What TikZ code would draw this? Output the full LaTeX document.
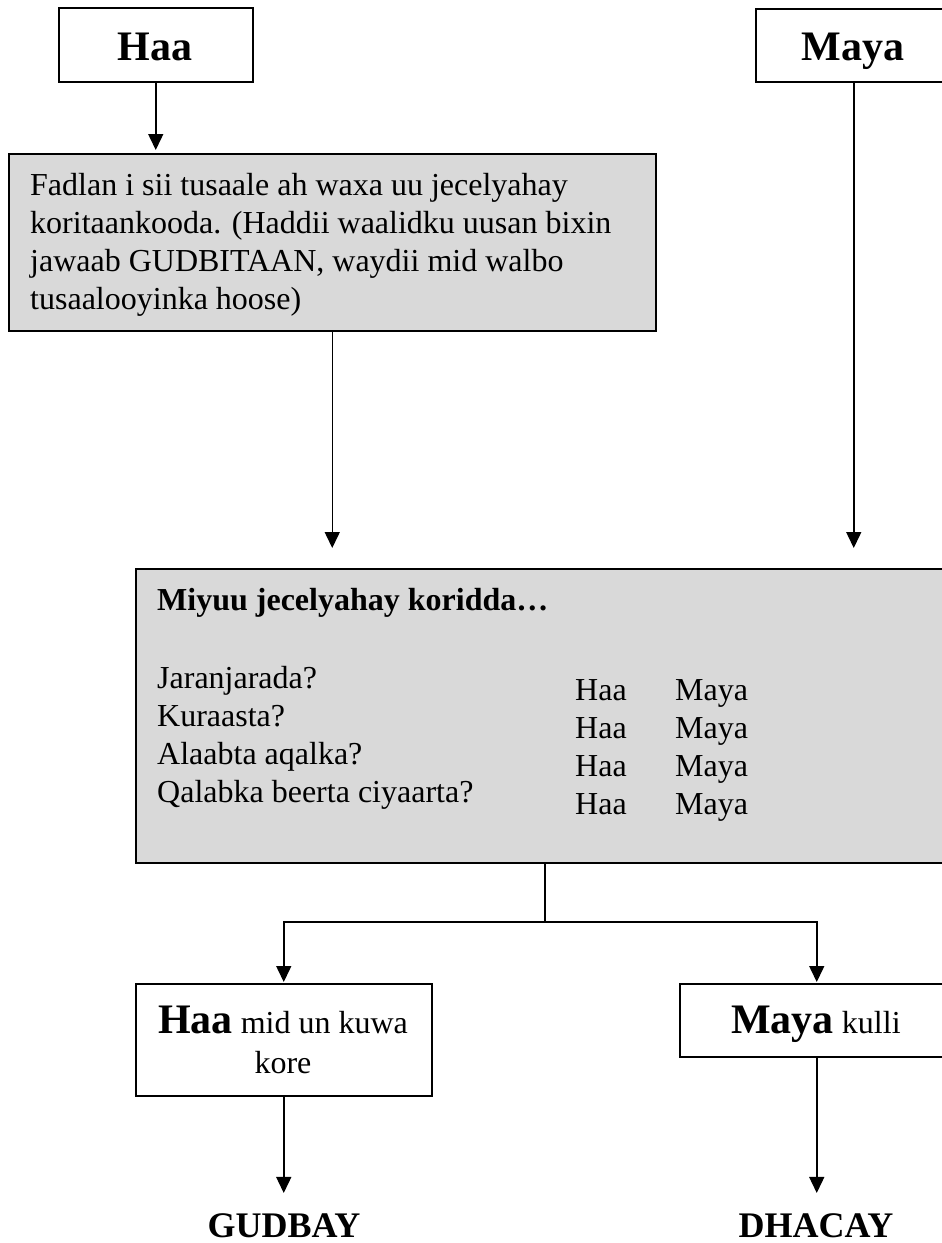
\documentclass[tikz,border=0pt]{standalone}
\usepackage{fontspec}
\setmainfont{Liberation Serif}
\usetikzlibrary{arrows.meta}
\definecolor{boxgray}{HTML}{D9D9D9}
\tikzset{
  box/.style={draw=black, line width=1.5pt, rectangle, inner sep=0pt, anchor=north west},
  graybox/.style={box, fill=boxgray},
  conn/.style={line width=1.5pt, -{Triangle[length=16pt,width=15pt]}},
  plain/.style={line width=1.5pt},
  txt/.style={inner sep=0pt, anchor=base west, font=\fontsize{32}{38}\selectfont},
  big/.style={font=\fontsize{42}{48}\selectfont\bfseries},
}
\begin{document}
\begin{tikzpicture}[x=1pt,y=-1pt]
\useasboundingbox (0,0) rectangle (942,1243);
\clip (0,0) rectangle (942,1243);
% top boxes
\node[box, minimum width=194pt, minimum height=74pt] (haa) at (58,7) {};
\node[inner sep=0pt, anchor=base, big] (haat) at (155,60) {Haa};
\node[box, minimum width=196pt, minimum height=73pt] (maya) at (755,8) {};
\node[inner sep=0pt, anchor=base, big] (mayat) at (853,60) {Maya};
% question box 1
\node[graybox, minimum width=647pt, minimum height=177pt] (q1) at (8,153) {};
\node[txt] (q1t) at (30,195) {\parbox[t]{620pt}{\raggedright Fadlan i sii tusaale ah waxa uu jecelyahay\\koritaankooda. (Haddii waalidku uusan bixin\\jawaab GUDBITAAN, waydii mid walbo\\tusaalooyinka hoose)}};
% question box 2
\node[graybox, minimum width=818pt, minimum height=294pt] (q2) at (135,568) {};
\node[txt, font=\fontsize{32}{38}\selectfont\bfseries] (q2h) at (157,610) {Miyuu jecelyahay koridda…};
\node[txt] (q2l) at (157,688) {\parbox[t]{400pt}{\raggedright Jaranjarada?\\Kuraasta?\\Alaabta aqalka?\\Qalabka beerta ciyaarta?}};
\node[txt] (q2a) at (575,700) {\parbox[t]{90pt}{\raggedright Haa\\Haa\\Haa\\Haa}};
\node[txt] (q2b) at (675,700) {\parbox[t]{120pt}{\raggedright Maya\\Maya\\Maya\\Maya}};
% answer boxes
\node[box, minimum width=296pt, minimum height=112pt] (yes) at (135,983) {};
\node[inner sep=0pt, anchor=base, font=\fontsize{32}{40}\selectfont] (yest) at (283,1033) {\parbox[t]{280pt}{\centering{\fontsize{42}{48}\selectfont\bfseries Haa} mid un kuwa\\kore}};
\node[box, minimum width=274pt, minimum height=73pt] (no) at (679,983) {};
\node[inner sep=0pt, anchor=base, font=\fontsize{32}{40}\selectfont] (not) at (816,1033) {{\fontsize{42}{48}\selectfont\bfseries Maya} kulli};
% outcomes
\node[inner sep=0pt, anchor=base, font=\fontsize{36}{40}\selectfont\bfseries] (gud) at (284,1237) {GUDBAY};
\node[inner sep=0pt, anchor=base, font=\fontsize{36}{40}\selectfont\bfseries] (dha) at (816,1237) {DHACAY};
% connectors
\draw[conn, shorten >=3pt] (haa.south) -- (haa.south |- q1.north);
\draw[conn, shorten >=20pt] (q1.south) -- (q1.south |- q2.north);
\draw[conn, shorten >=20pt] (maya.south) -- (maya.south |- q2.north);
\draw[plain] (q2.south) -- (q2.south |- 0,922) coordinate (split);
\draw[conn, shorten >=1pt] (split) -| (yes.north);
\draw[conn, shorten >=1pt] (split) -| (no.north);
\draw[conn, shorten >=20pt] (yes.south) -- (yes.south |- gud.north);
\draw[conn, shorten >=20pt] (no.south) -- (no.south |- dha.north);
\end{tikzpicture}
\end{document}
